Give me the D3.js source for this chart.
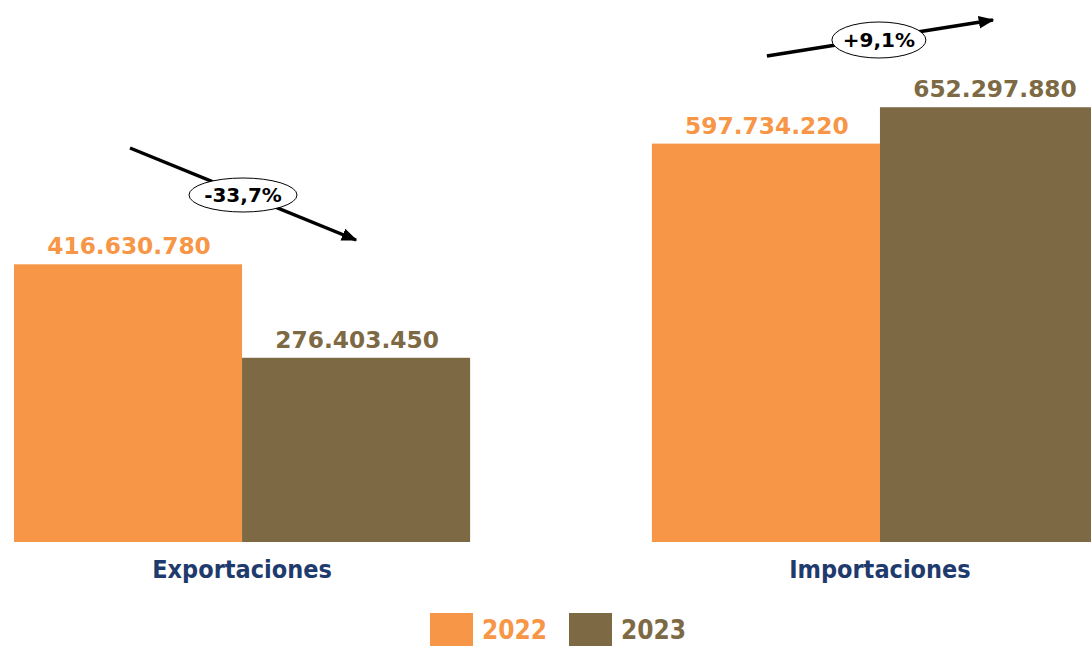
<!DOCTYPE html>
<html><head><meta charset="utf-8">
<script src="https://cdn.jsdelivr.net/npm/d3@7"></script>
<style>body{margin:0;background:#fff}svg{display:block}</style>
</head><body>
<svg id="c" width="1091" height="646"></svg>
<script>
const categories = ["Exportaciones", "Importaciones"];
const years = ["2022", "2023"];
const values2022 = [416630780, 597734220];
const values2023 = [276403450, 652297880];
const changeLabels = ["-33,7%", "+9,1%"];
const colors = ["#F79646", "#7D6A44"];

const svg = d3.select("#c");
const baseY = 542;
const y = d3.scaleLinear().domain([0, 813200000]).range([baseY, 0]);
const x0 = d3.scaleBand().domain(categories).range([14, 1108]).paddingInner(0.285).paddingOuter(0);
const x1 = d3.scaleBand().domain(years).range([0, x0.bandwidth()]);
const fmt = v => d3.format(",")(v).replace(/,/g, ".");
const series = [values2022, values2023];

const defs = svg.append("defs");
defs.append("marker").attr("id","ah").attr("viewBox","0 0 10 10").attr("refX",9).attr("refY",5)
  .attr("markerWidth",4.5).attr("markerHeight",4.5).attr("orient","auto")
  .append("path").attr("d","M0,1 L10,5 L0,9 Z").attr("fill","#000");

categories.forEach((c, i) => {
  const g = svg.append("g").attr("transform", `translate(${x0(c)},0)`);
  years.forEach((yr, j) => {
    const v = series[j][i];
    g.append("rect").attr("x", x1(yr)).attr("y", y(v)).attr("width", x1.bandwidth())
      .attr("height", baseY - y(v)).attr("fill", colors[j]);
    g.append("text").attr("x", x1(yr) + x1.bandwidth()/2 + 1).attr("y", y(v) - 10)
      .attr("text-anchor","middle").attr("font-family","DejaVu Sans").attr("font-weight","bold")
      .attr("font-size", 23.3).attr("fill", colors[j]).text(fmt(v));
  });
  svg.append("text").attr("x", x0(c) + x0.bandwidth()/2).attr("y", 578).attr("text-anchor","middle")
    .attr("font-family","DejaVu Sans Condensed, DejaVu Sans").attr("font-weight","bold").attr("font-size", 25)
    .attr("fill","#1F3B6E").text(c);
});

// change arrows
const arrows = [
  {x1: x0(categories[0]) + 116, y1: 148, x2: x0(categories[0]) + 342, y2: 240, cx: x0(categories[0]) + 229, cy: 195, rx: 54, ry: 17},
  {x1: x0(categories[1]) + 115, y1: 56, x2: x0(categories[1]) + 341, y2: 20, cx: x0(categories[1]) + 227, cy: 40, rx: 47, ry: 18}
];
arrows.forEach((a, i) => {
  svg.append("line").attr("x1", a.x1).attr("y1", a.y1).attr("x2", a.x2).attr("y2", a.y2)
    .attr("stroke","#000").attr("stroke-width",3.5).attr("marker-end","url(#ah)");
  svg.append("ellipse").attr("cx", a.cx).attr("cy", a.cy).attr("rx", a.rx).attr("ry", a.ry)
    .attr("fill","#fff").attr("stroke","#000").attr("stroke-width",1);
  svg.append("text").attr("x", a.cx).attr("y", a.cy + 7).attr("text-anchor","middle")
    .attr("font-family","DejaVu Sans").attr("font-weight","bold").attr("font-size",20)
    .attr("fill","#000").text(changeLabels[i]);
});

// legend
const leg = svg.append("g");
const legX = [430, 569];
years.forEach((yr, j) => {
  leg.append("rect").attr("x", legX[j]).attr("y", 613).attr("width", 43).attr("height", 33).attr("fill", colors[j]);
  leg.append("text").attr("x", legX[j] + 52).attr("y", 639).attr("font-family","DejaVu Sans Condensed, DejaVu Sans")
    .attr("font-size", 26).attr("fill", colors[j]).attr("font-weight","bold").text(yr);
});
</script>
</body></html>
